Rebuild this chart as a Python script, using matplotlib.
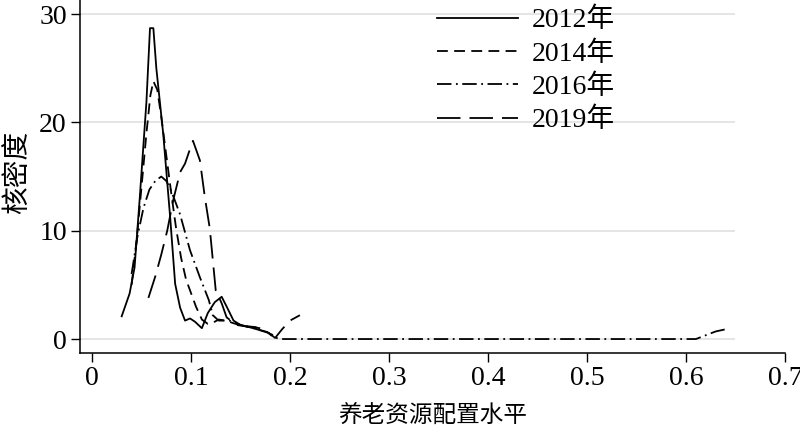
import numpy as np
import matplotlib
matplotlib.use('Agg')
import matplotlib.pyplot as plt

plt.rcParams['font.family'] = ['Liberation Serif', 'Noto Sans CJK SC']

# kernel density curves
x_2012 = [0.030, 0.038, 0.043, 0.048, 0.055, 0.0586, 0.062, 0.065, 0.072, 0.079, 0.084, 0.089,
          0.094, 0.099, 0.104, 0.111, 0.117, 0.124, 0.131, 0.136, 0.143, 0.150, 0.163, 0.177, 0.182]
y_2012 = [2.1, 4.2, 6.6, 12.7, 21.9, 28.7, 28.7, 25.0, 18.9, 11.2, 5.1, 2.9,
          1.7, 1.9, 1.6, 1.0, 2.4, 3.4, 3.9, 3.0, 1.7, 1.3, 1.0, 0.6, 0.4]

x_2014 = [0.040, 0.045, 0.050, 0.055, 0.059, 0.062, 0.066, 0.070, 0.075, 0.080, 0.085, 0.090,
          0.095, 0.099, 0.105, 0.111, 0.117, 0.122, 0.128, 0.135, 0.145, 0.155, 0.165, 0.172]
y_2014 = [5.0, 9.0, 14.0, 19.0, 22.5, 23.8, 23.0, 20.5, 17.0, 13.5, 10.2, 7.5,
          5.5, 4.5, 3.0, 1.8, 1.4, 1.5, 1.8, 1.7, 1.4, 1.2, 1.1, 0.9]

x_2016 = [0.040, 0.046, 0.052, 0.058, 0.064, 0.070, 0.075, 0.080, 0.089, 0.099, 0.109, 0.118,
          0.122, 0.128, 0.139, 0.150, 0.163, 0.177, 0.183, 0.190, 0.300, 0.400, 0.500, 0.600,
          0.610, 0.620, 0.630, 0.640]
y_2016 = [6.0, 9.5, 12.1, 13.8, 14.6, 15.0, 14.6, 13.7, 11.5, 8.2, 5.7, 3.6,
          2.2, 1.7, 1.7, 1.3, 1.0, 0.65, 0.2, 0.0, 0.0, 0.0, 0.0, 0.0,
          0.0, 0.35, 0.7, 0.9]

x_2019 = [0.057, 0.064, 0.070, 0.076, 0.082, 0.089, 0.094, 0.100, 0.102, 0.109, 0.114, 0.119,
          0.125, 0.131, 0.136, 0.146, 0.160, 0.170, 0.178, 0.185, 0.192, 0.200, 0.210]
y_2019 = [3.8, 5.8, 7.8, 10.0, 12.8, 15.4, 16.2, 17.8, 18.3, 16.5, 13.1, 10.2,
          4.5, 3.3, 2.0, 1.3, 1.1, 1.0, 0.6, 0.1, 0.9, 1.7, 2.2]

labels = ['2012年', '2014年', '2016年', '2019年']
xticks = [0, 0.1, 0.2, 0.3, 0.4, 0.5, 0.6, 0.7]
xticklabels = ['0', '0.1', '0.2', '0.3', '0.4', '0.5', '0.6', '0.7']
yticks = [0, 10, 20, 30]

fig = plt.figure(figsize=(8, 4.33), dpi=100)
ax = fig.add_axes([0.1, 80 / 433, 0.88125, 353 / 433])

ax.hlines(yticks, -0.0121, 0.65, color='#e3e3e3', lw=1.3, zorder=0)

lw = 1.3
ax.plot(x_2012, y_2012, color='black', lw=lw, label=labels[0])
ax.plot(x_2014, y_2014, color='black', lw=lw, dashes=(6, 3.5), label=labels[1])
ax.plot(x_2016, y_2016, color='black', lw=lw, dashes=(8, 2.5, 1, 2.5), label=labels[2])
ax.plot(x_2019, y_2019, color='black', lw=lw, dashes=(13, 5), label=labels[3])

ax.set_xlim(-0.0121, 0.7)
ax.set_ylim(-1.29, 31.3)
ax.set_xticks(xticks)
ax.set_xticklabels(xticklabels)
ax.set_yticks(yticks)
ax.tick_params(axis='both', labelsize=20, length=6.5, width=1, direction='out', colors='black')
ax.tick_params(axis='y', pad=3)
ax.tick_params(axis='x', pad=3)

for s in ['top', 'right']:
    ax.spines[s].set_visible(False)
for s in ['left', 'bottom']:
    ax.spines[s].set_linewidth(1.1)

ax.set_xlabel('养老资源配置水平', fontsize=17, labelpad=10)
ax.set_ylabel('核密度', fontsize=20)
ax.yaxis.set_label_coords(-0.069, 0.513)

ax.legend(loc='upper left', bbox_to_anchor=(437 / 800, 1 - 8 / 433),
          bbox_transform=fig.transFigure, frameon=False, fontsize=20,
          handlelength=2.9, handletextpad=0.5, labelspacing=0.28, borderpad=0,
          borderaxespad=0)

fig.savefig('out.png', dpi=100)
